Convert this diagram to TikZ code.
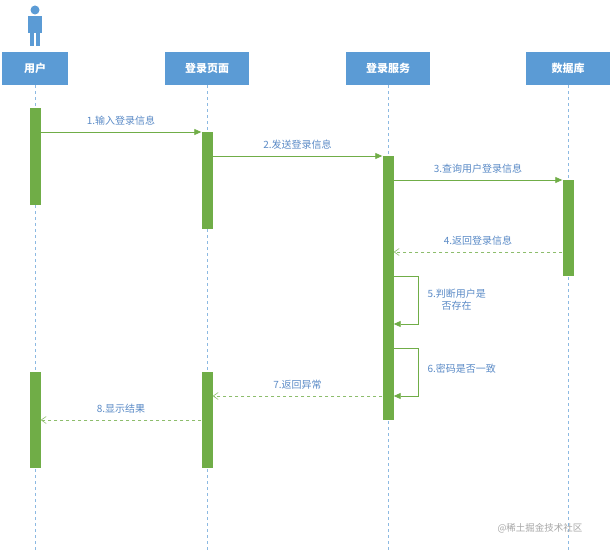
\documentclass[tikz,border=0pt]{standalone}
\usepackage{fontspec}
\newfontfamily\cjk{Noto Sans CJK SC}
\usetikzlibrary{arrows.meta}
\definecolor{hb}{HTML}{5B9BD5}
\definecolor{gr}{HTML}{70AD47}
\definecolor{tb}{HTML}{5A8AC6}
\tikzset{
 hdr/.style={fill=hb,text=white,font=\cjk\bfseries\fontsize{11}{13}\selectfont,minimum height=33pt,inner sep=0pt},
 act/.style={fill=gr,draw=none,minimum width=11pt,inner sep=0pt,anchor=north},
 life/.style={hb!70,dashed,thin},
 msg/.style={gr,-{Triangle[length=7pt,width=6pt]},line width=0.8pt},
 ret/.style={gr!80,dashed,-{Straight Barb[length=5pt,width=7pt]},line width=0.6pt},
 lbl/.style={text=tb,font=\cjk\fontsize{10}{12}\selectfont,align=center}
}
\begin{document}
\begin{tikzpicture}[x=1pt,y=-1pt]
\useasboundingbox (0,0) rectangle (613,551);
% actor
\fill[hb] (35,10) circle (4.5);
\fill[hb] (28,16) rectangle (42,33);
\fill[hb] (30,33) rectangle (34.4,46);
\fill[hb] (35.6,33) rectangle (40,46);
\node[hdr,minimum width=66pt] (h1) at (35,68.5) {用户};
\node[hdr,minimum width=84pt] (h2) at (207,68.5) {登录页面};
\node[hdr,minimum width=84pt] (h3) at (388,68.5) {登录服务};
\node[hdr,minimum width=84pt] (h4) at (568,68.5) {数据库};
\coordinate (e1) at (35,551);\coordinate (e2) at (207,551);
\coordinate (e3) at (388,551);\coordinate (e4) at (568,551);
\draw[life] (h1.south)--(e1); \draw[life] (h2.south)--(e2);
\draw[life] (h3.south)--(e3); \draw[life] (h4.south)--(e4);
\node[act,minimum height=97pt] (a1) at (35,108) {};
\node[act,minimum height=96pt] (a1b) at (35,372) {};
\node[act,minimum height=97pt] (a2) at (207,132) {};
\node[act,minimum height=96pt] (a2b) at (207,372) {};
\node[act,minimum height=264pt] (a3) at (388,156) {};
\node[act,minimum height=96pt] (a4) at (568,180) {};
\coordinate (m1s) at (a1.east|-0,132); \coordinate (m1e) at (a2.west|-0,132);
\draw[msg] (m1s)--(m1e) node[lbl,midway,above=3pt] {1.输入登录信息};
\coordinate (m2s) at (a2.east|-0,156); \coordinate (m2e) at (a3.west|-0,156);
\draw[msg] (m2s)--(m2e) node[lbl,midway,above=3pt] {2.发送登录信息};
\coordinate (m3s) at (a3.east|-0,180); \coordinate (m3e) at (a4.west|-0,180);
\draw[msg] (m3s)--(m3e) node[lbl,midway,above=3pt] {3.查询用户登录信息};
\coordinate (m4s) at (a4.west|-0,252); \coordinate (m4e) at (a3.east|-0,252);
\draw[ret] (m4s)--(m4e) node[lbl,midway,above=3pt] {4.返回登录信息};
\coordinate (m5s) at (a3.east|-0,276); \coordinate (m5e) at (a3.east|-0,324);
\draw[msg] (m5s)-|(418,324)--(m5e);
\node[lbl,anchor=west] (l5) at (424,300) {5.判断用户是\\否存在};
\coordinate (m6s) at (a3.east|-0,348); \coordinate (m6e) at (a3.east|-0,396);
\draw[msg] (m6s)-|(418,396)--(m6e);
\node[lbl,anchor=west] (l6) at (424,369) {6.密码是否一致};
\coordinate (m7s) at (a3.west|-0,396); \coordinate (m7e) at (a2b.east|-0,396);
\draw[ret] (m7s)--(m7e) node[lbl,midway,above=3pt] {7.返回异常};
\coordinate (m8s) at (a2b.west|-0,420); \coordinate (m8e) at (a1b.east|-0,420);
\draw[ret] (m8s)--(m8e) node[lbl,midway,above=3pt] {8.显示结果};
\node[text=gray!70,font=\cjk\fontsize{9.5}{11}\selectfont] (wm) at (540,528) {@稀土掘金技术社区};
\end{tikzpicture}
\end{document}
